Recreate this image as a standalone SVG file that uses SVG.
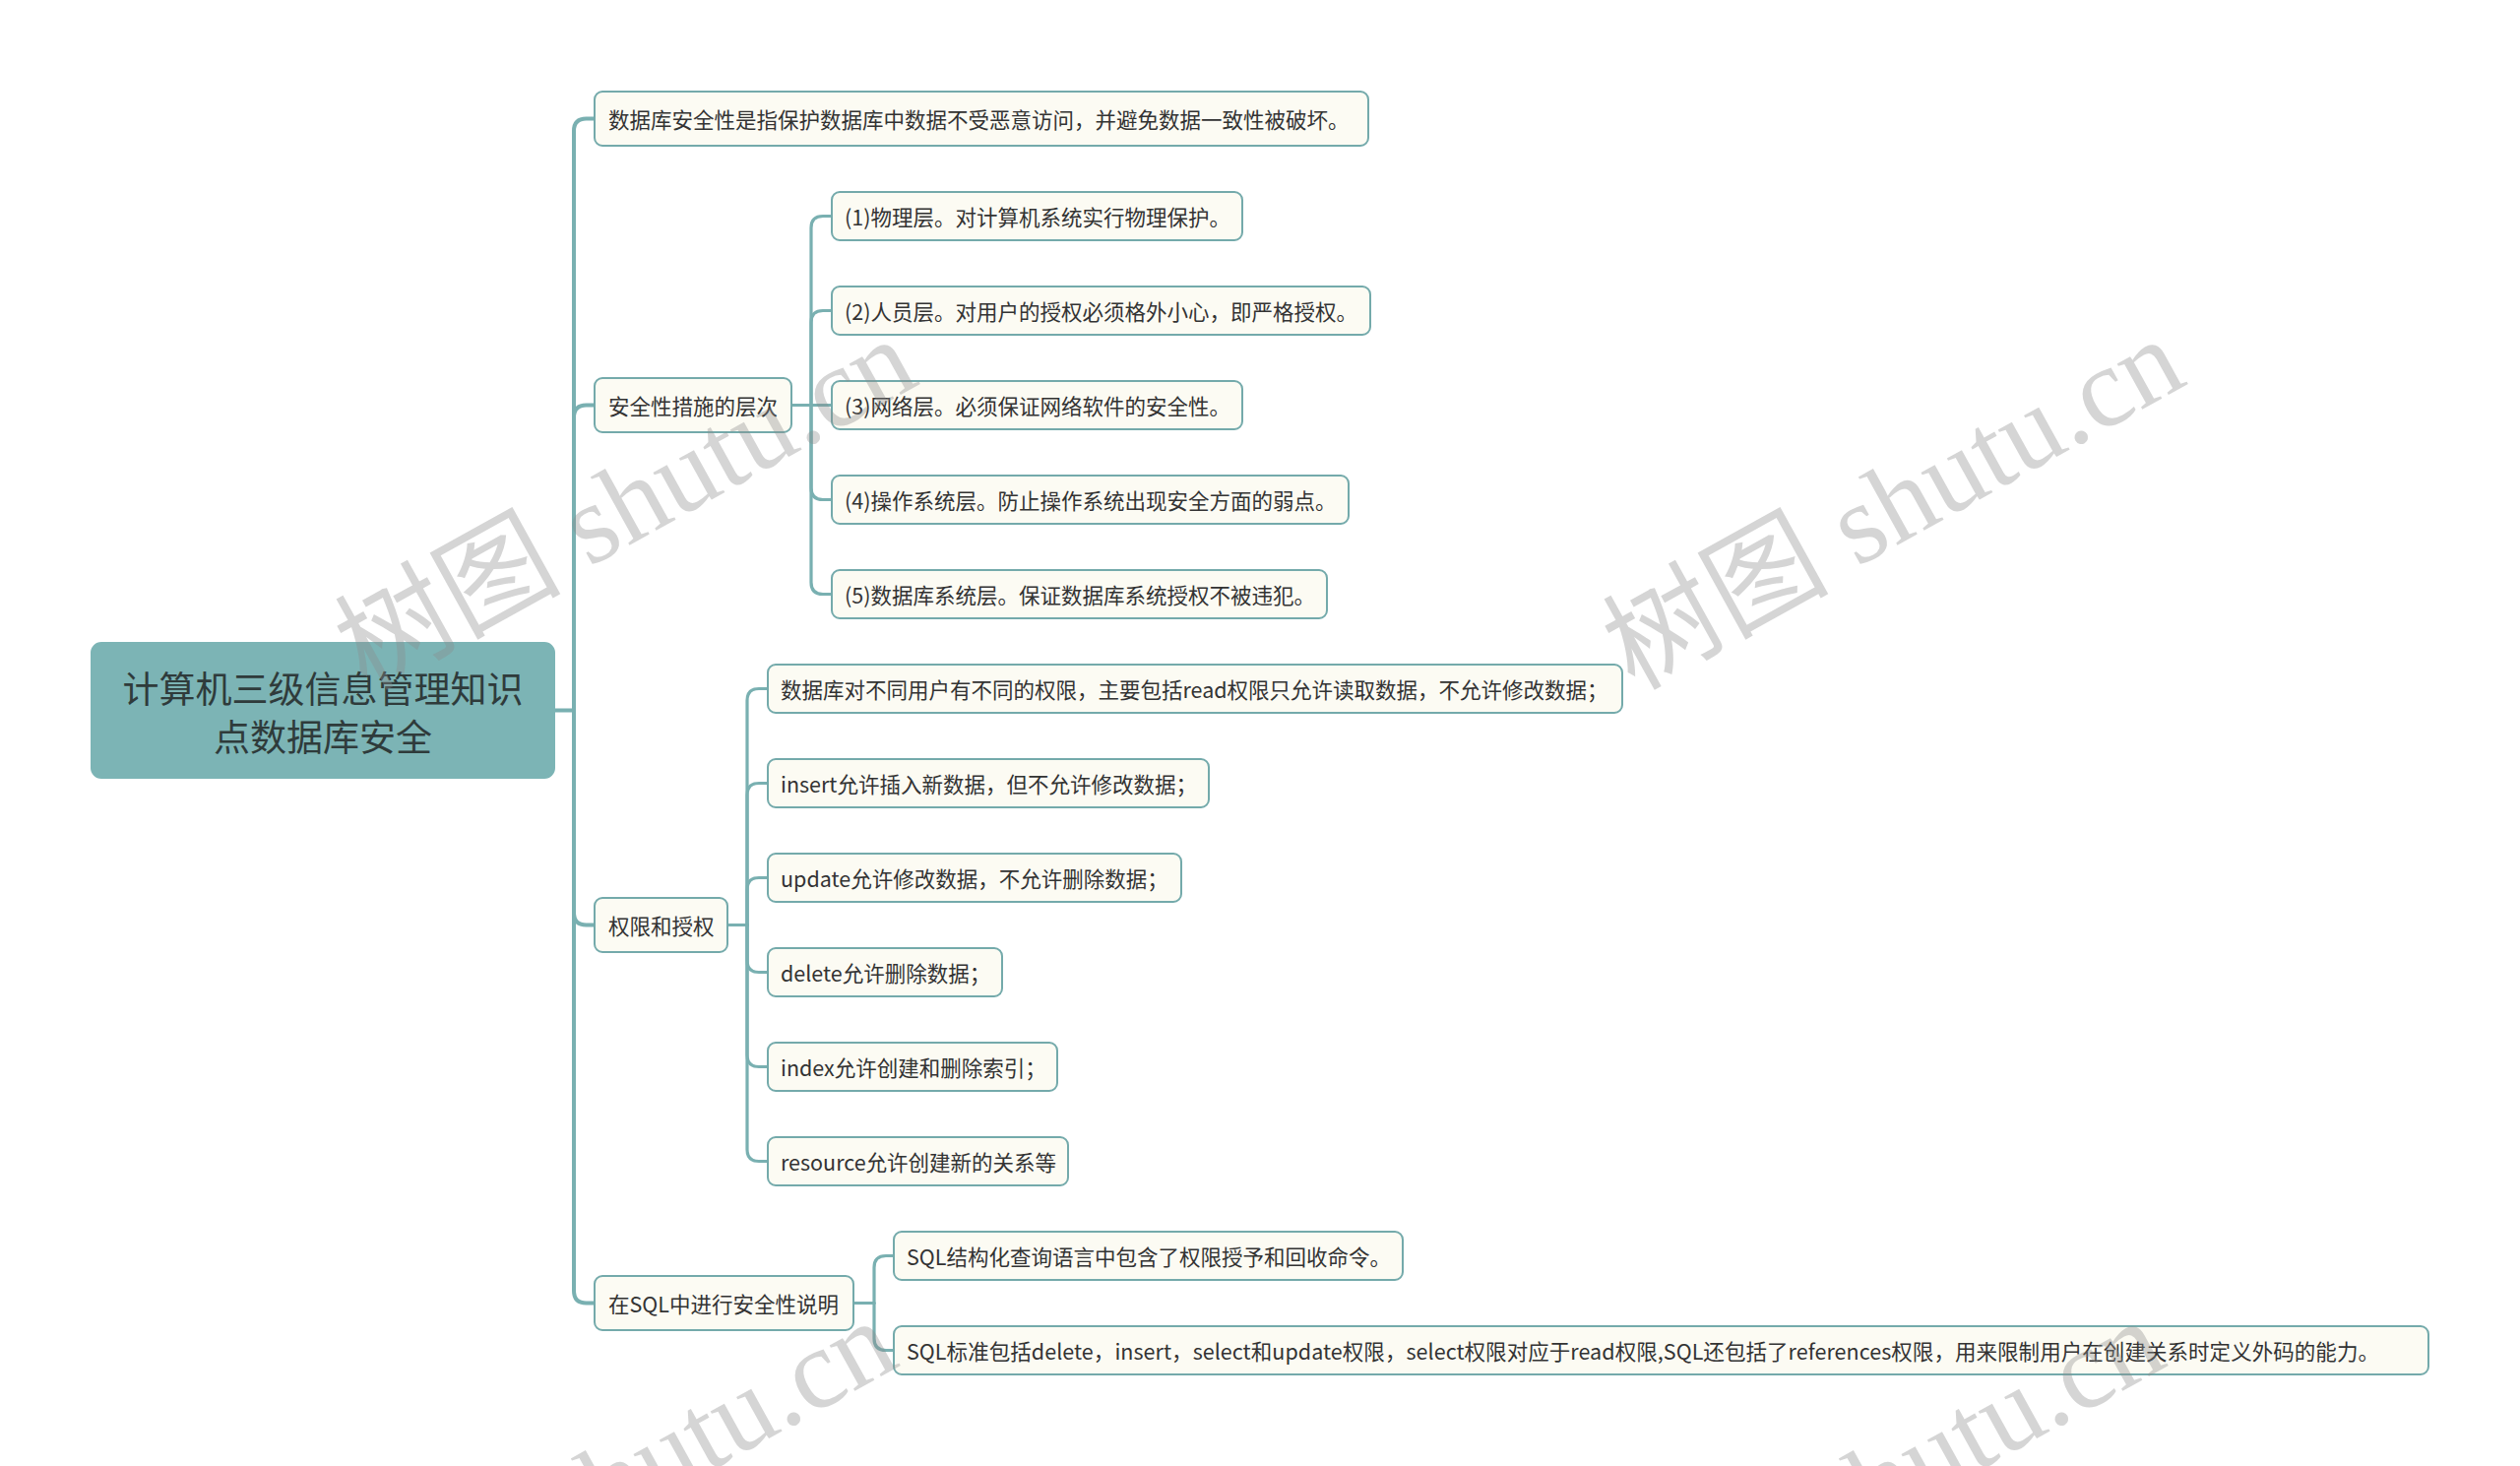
<svg xmlns="http://www.w3.org/2000/svg" width="2560" height="1489" viewBox="0 0 2560 1489">
<style>
.bg{fill:#ffffff}
.node rect{fill:#fcfbf3;stroke:#74aaab;stroke-width:2}
.root rect{fill:#7cb4b5;stroke:#7cb4b5;stroke-width:2}
.node text{font-family:"Noto Sans CJK SC","Microsoft YaHei",sans-serif;font-size:21.5px;fill:#333333;dominant-baseline:central}
.root text{font-family:"Noto Sans CJK SC","Microsoft YaHei",sans-serif;font-size:37px;fill:#2f3b3b;dominant-baseline:central;text-anchor:middle}
.links path{fill:none;stroke:#79b0b1;stroke-linecap:round;stroke-linejoin:round}
.l1{stroke-width:4}
.l2{stroke-width:3.2}
.wm{font-family:"Liberation Serif","Noto Sans CJK SC",serif;font-size:115px;fill:#8c8c8c;opacity:0.36}
</style>
<rect class="bg" x="0" y="0" width="2560" height="1489"/>

<g id="connectors" class="links">
  <path class="l1" d="M563,721.5 H583"/>
  <path class="l1" d="M583,721.5 V133 Q583,120.5 595.5,120.5 H604"/>
  <path class="l1" d="M583,721.5 V424 Q583,411.5 595.5,411.5 H604"/>
  <path class="l1" d="M583,721.5 V927 Q583,939.5 595.5,939.5 H604"/>
  <path class="l1" d="M583,721.5 V1311 Q583,1323.5 595.5,1323.5 H604"/>
  <path class="l2" d="M804,411.5 H824"/>
  <path class="l2" d="M824,411.5 V231.5 Q824,219.5 836,219.5 H845"/>
  <path class="l2" d="M824,411.5 V327.5 Q824,315.5 836,315.5 H845"/>
  <path class="l2" d="M824,411.5 H845"/>
  <path class="l2" d="M824,411.5 V495.5 Q824,507.5 836,507.5 H845"/>
  <path class="l2" d="M824,411.5 V591.5 Q824,603.5 836,603.5 H845"/>
  <path class="l2" d="M739,939.5 H759"/>
  <path class="l2" d="M759,939.5 V711.5 Q759,699.5 771,699.5 H780"/>
  <path class="l2" d="M759,939.5 V807.5 Q759,795.5 771,795.5 H780"/>
  <path class="l2" d="M759,939.5 V903.5 Q759,891.5 771,891.5 H780"/>
  <path class="l2" d="M759,939.5 V975.5 Q759,987.5 771,987.5 H780"/>
  <path class="l2" d="M759,939.5 V1071.5 Q759,1083.5 771,1083.5 H780"/>
  <path class="l2" d="M759,939.5 V1167.5 Q759,1179.5 771,1179.5 H780"/>
  <path class="l2" d="M867,1323.5 H888"/>
  <path class="l2" d="M888,1323.5 V1287.5 Q888,1275.5 900,1275.5 H908"/>
  <path class="l2" d="M888,1323.5 V1359.5 Q888,1371.5 900,1371.5 H908"/>
</g>

<g id="root" class="root">
  <rect x="93" y="653" width="470" height="137" rx="10"/>
  <text x="328" y="698">计算机三级信息管理知识</text>
  <text x="328" y="747">点数据库安全</text>
</g>

<g id="n1" class="node">
  <rect x="604" y="93" width="786" height="55" rx="8"/>
  <text x="618" y="120.5">数据库安全性是指保护数据库中数据不受恶意访问，并避免数据一致性被破坏。</text>
</g>
<g id="n2" class="node">
  <rect x="604" y="384" width="200" height="55" rx="8"/>
  <text x="618" y="411.5">安全性措施的层次</text>
</g>
<g id="n3" class="node">
  <rect x="604" y="912" width="135" height="55" rx="8"/>
  <text x="618" y="939.5">权限和授权</text>
</g>
<g id="n4" class="node">
  <rect x="604" y="1296" width="263" height="55" rx="8"/>
  <text x="618" y="1323.5">在SQL中进行安全性说明</text>
</g>

<g id="c1" class="node">
  <rect x="845" y="195" width="417" height="49" rx="8"/>
  <text x="858" y="219.5">(1)物理层。对计算机系统实行物理保护。</text>
</g>
<g id="c2" class="node">
  <rect x="845" y="291" width="547" height="49" rx="8"/>
  <text x="858" y="315.5">(2)人员层。对用户的授权必须格外小心，即严格授权。</text>
</g>
<g id="c3" class="node">
  <rect x="845" y="387" width="417" height="49" rx="8"/>
  <text x="858" y="411.5">(3)网络层。必须保证网络软件的安全性。</text>
</g>
<g id="c4" class="node">
  <rect x="845" y="483" width="525" height="49" rx="8"/>
  <text x="858" y="507.5">(4)操作系统层。防止操作系统出现安全方面的弱点。</text>
</g>
<g id="c5" class="node">
  <rect x="845" y="579" width="503" height="49" rx="8"/>
  <text x="858" y="603.5">(5)数据库系统层。保证数据库系统授权不被违犯。</text>
</g>

<g id="d1" class="node">
  <rect x="780" y="675" width="868" height="49" rx="8"/>
  <text x="793" y="699.5">数据库对不同用户有不同的权限，主要包括read权限只允许读取数据，不允许修改数据；</text>
</g>
<g id="d2" class="node">
  <rect x="780" y="771" width="448" height="49" rx="8"/>
  <text x="793" y="795.5">insert允许插入新数据，但不允许修改数据；</text>
</g>
<g id="d3" class="node">
  <rect x="780" y="867" width="420" height="49" rx="8"/>
  <text x="793" y="891.5">update允许修改数据，不允许删除数据；</text>
</g>
<g id="d4" class="node">
  <rect x="780" y="963" width="238" height="49" rx="8"/>
  <text x="793" y="987.5">delete允许删除数据；</text>
</g>
<g id="d5" class="node">
  <rect x="780" y="1059" width="294" height="49" rx="8"/>
  <text x="793" y="1083.5">index允许创建和删除索引；</text>
</g>
<g id="d6" class="node">
  <rect x="780" y="1155" width="305" height="49" rx="8"/>
  <text x="793" y="1179.5">resource允许创建新的关系等</text>
</g>

<g id="e1" class="node">
  <rect x="908" y="1251" width="517" height="49" rx="8"/>
  <text x="921" y="1275.5">SQL结构化查询语言中包含了权限授予和回收命令。</text>
</g>
<g id="e2" class="node">
  <rect x="908" y="1347" width="1559" height="49" rx="8"/>
  <text x="921" y="1371.5" textLength="1496" lengthAdjust="spacing">SQL标准包括delete，insert，select和update权限，select权限对应于read权限,SQL还包括了references权限，用来限制用户在创建关系时定义外码的能力。</text>
</g>

<g id="watermarks">
  <text class="wm" transform="translate(372,702) rotate(-29)">树图 shutu.cn</text>
  <text class="wm" transform="translate(1660,702) rotate(-29)">树图 shutu.cn</text>
  <text class="wm" transform="translate(352,1699) rotate(-29)">树图 shutu.cn</text>
  <text class="wm" transform="translate(1640,1699) rotate(-29)">树图 shutu.cn</text>
</g>
</svg>
